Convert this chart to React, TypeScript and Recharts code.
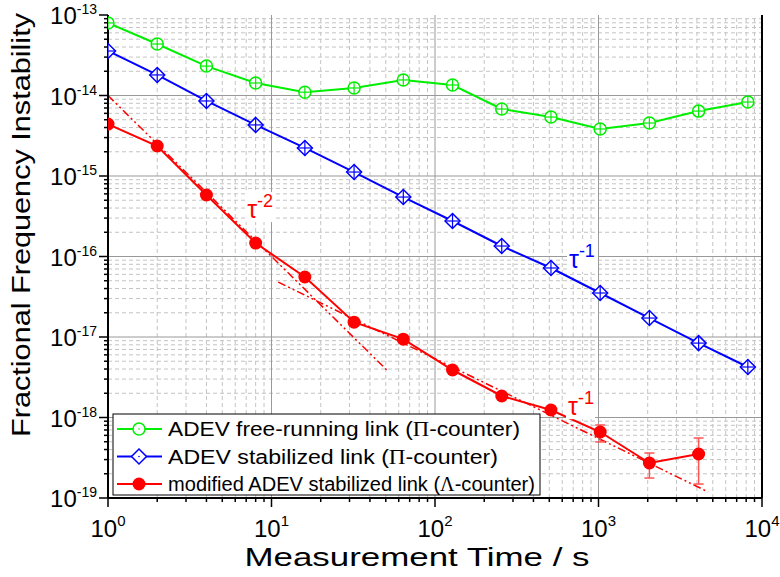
import {
  ComposedChart,
  Line,
  XAxis,
  YAxis,
  ReferenceLine,
  ReferenceDot,
  ErrorBar,
} from 'recharts';

document.body.style.margin = '0';

// averaging times (s)
const tau = [1, 2, 4, 8, 16, 32, 64, 128, 256, 512, 1024, 2048, 4096, 8192];

// ADEV free-running link (Pi-counter)
const freeRunning = [
  7.96e-14, 4.36e-14, 2.32e-14, 1.43e-14, 1.1e-14, 1.24e-14, 1.56e-14, 1.35e-14,
  6.8e-15, 5.4e-15, 3.84e-15, 4.55e-15, 6.4e-15, 8.3e-15,
];
// ADEV stabilized link (Pi-counter)
const stabilized = [
  3.57e-14, 1.8e-14, 8.55e-15, 4.31e-15, 2.23e-15, 1.12e-15, 5.48e-16, 2.76e-16,
  1.35e-16, 7.2e-17, 3.52e-17, 1.72e-17, 8.4e-18, 4.24e-18,
];
// modified ADEV stabilized link (Lambda-counter), no value at 8192 s
const modified = [
  4.42e-15, 2.36e-15, 5.81e-16, 1.47e-16, 5.56e-17, 1.53e-17, 9.4e-18, 3.89e-18,
  1.85e-18, 1.24e-18, 6.6e-19, 2.72e-19, 3.52e-19,
];

// error bars of the modified ADEV (lower / upper bound)
const errTau = [1024, 2048, 4096];
const errLow = [4.97e-19, 1.77e-19, 1.49e-19];
const errHigh = [8.07e-19, 3.62e-19, 5.56e-19];

// dash-dot slope guides, end points
const slope2Tau = [1, 52];
const slope2Val = [1.0e-14, 3.7e-18];
const slope1Tau = [11, 4680];
const slope1Val = [4.8e-17, 1.19e-19];

// axes
const xDecades = [1, 10, 100, 1000, 10000];
const yDecades = [1e-19, 1e-18, 1e-17, 1e-16, 1e-15, 1e-14, 1e-13];
const minorSteps = [2, 3, 4, 5, 6, 7, 8, 9];

const xMinor = xDecades.slice(0, -1).flatMap((d) => minorSteps.map((k) => k * d));
const yMinor = yDecades.slice(0, -1).flatMap((d) => minorSteps.map((k) => k * d));
const xTicks = [...xDecades, ...xMinor].sort((a, b) => a - b);
const yTicks = [...yDecades, ...yMinor].sort((a, b) => a - b);

const GREEN = '#00ee00';
const BLUE = '#0000ff';
const RED = '#ff0000';
const FONT = '"Liberation Sans", Arial, sans-serif';

const freeData = tau.map((t, i) => ({ t, v: freeRunning[i] }));
const stabData = tau.map((t, i) => ({ t, v: stabilized[i] }));
const modData = modified.map((v, i) => ({ t: tau[i], v }));
const errData = errTau.map((t, i) => {
  const v = modified[tau.indexOf(t)];
  return { t, v, err: [v - errLow[i], errHigh[i] - v] };
});
const slope2Data = slope2Tau.map((t, i) => ({ t, v: slope2Val[i] }));
const slope1Data = slope1Tau.map((t, i) => ({ t, v: slope1Val[i] }));

function isDecade(v: number) {
  const e = Math.log10(v);
  return Math.abs(e - Math.round(e)) < 1e-6;
}

function XTick(props: any) {
  const { x, y, payload } = props;
  const major = isDecade(payload.value);
  const exp = Math.round(Math.log10(payload.value));
  return (
    <g>
      <line x1={x} x2={x} y1={y} y2={y + (major ? 9 : 4)} stroke="#000" strokeWidth={1.5} />
      {major && (
        <text x={x} y={y + 39} textAnchor="middle" fontFamily={FONT} fontSize={24} fill="#000">
          10
          <tspan dy={-11} fontSize={15}>
            {exp}
          </tspan>
        </text>
      )}
    </g>
  );
}

function YTick(props: any) {
  const { x, y, payload } = props;
  const major = isDecade(payload.value);
  const exp = Math.round(Math.log10(payload.value));
  return (
    <g>
      <line x1={x} x2={x - (major ? 9 : 4)} y1={y} y2={y} stroke="#000" strokeWidth={1.5} />
      {major && (
        <text x={x - 11} y={y + 9} textAnchor="end" fontFamily={FONT} fontSize={24} fill="#000">
          10
          <tspan dy={-10} fontSize={14}>
            {exp}
          </tspan>
        </text>
      )}
    </g>
  );
}

function CircleCross(props: any) {
  const { cx, cy } = props;
  if (cx == null || cy == null) return null;
  const r = 6;
  return (
    <g>
      <circle cx={cx} cy={cy} r={r} fill="#fff" stroke={GREEN} strokeWidth={1.5} />
      <line x1={cx - r} x2={cx + r} y1={cy} y2={cy} stroke={GREEN} strokeWidth={1.2} />
      <line x1={cx} x2={cx} y1={cy - r} y2={cy + r} stroke={GREEN} strokeWidth={1.2} />
    </g>
  );
}

function DiamondCross(props: any) {
  const { cx, cy } = props;
  if (cx == null || cy == null) return null;
  const r = 7.5;
  return (
    <g>
      <path
        d={`M${cx},${cy - r}L${cx + r},${cy}L${cx},${cy + r}L${cx - r},${cy}Z`}
        fill="#fff"
        stroke={BLUE}
        strokeWidth={1.5}
      />
      <line x1={cx - r} x2={cx + r} y1={cy} y2={cy} stroke={BLUE} strokeWidth={1.2} />
      <line x1={cx} x2={cx} y1={cy - r} y2={cy + r} stroke={BLUE} strokeWidth={1.2} />
    </g>
  );
}

function SlopeLabel({ color, exp, width }: { color: string; exp: string; width: number }) {
  return (props: any) => {
    const { cx, cy } = props;
    return (
      <g>
        <rect x={cx - 2} y={cy - 26} width={width} height={30} fill="#fff" />
        <text x={cx} y={cy} fontFamily={FONT} fontSize={25} fill={color}>
          τ
          <tspan dy={-11} fontSize={18}>
            {exp}
          </tspan>
        </text>
      </g>
    );
  };
}

function YTitle() {
  const cx = 30;
  const cy = 225;
  return (
    <text
      x={cx}
      y={cy}
      transform={`rotate(-90 ${cx} ${cy})`}
      textAnchor="middle"
      fontFamily={FONT}
      fontSize={26}
      fill="#000"
      textLength={424}
      lengthAdjust="spacingAndGlyphs"
    >
      Fractional Frequency Instability
    </text>
  );
}

function XTitle() {
  return (
    <text
      x={417}
      y={566}
      textAnchor="middle"
      fontFamily={FONT}
      fontSize={26}
      fill="#000"
      textLength={345}
      lengthAdjust="spacingAndGlyphs"
    >
      Measurement Time / s
    </text>
  );
}

const legendRows = [
  { pre: 'ADEV free-running link (', sym: 'Π', post: '-counter)', color: GREEN, marker: 'circle', len: 352 },
  { pre: 'ADEV stabilized link (', sym: 'Π', post: '-counter)', color: BLUE, marker: 'diamond', len: 330 },
  { pre: 'modified ADEV stabilized link (', sym: 'Λ', post: '-counter)', color: RED, marker: 'dot', len: 367 },
];

function LegendBox() {
  return (
    <svg width={430} height={84} style={{ position: 'absolute', left: 112, top: 413 }}>
      <rect x={1} y={1} width={427} height={81} fill="#fff" stroke="#000" strokeWidth={1} />
      {legendRows.map((row, i) => {
        const y = 16 + i * 27.5;
        const mx = 27;
        return (
          <g key={row.pre}>
            <line x1={5} x2={50} y1={y} y2={y} stroke={row.color} strokeWidth={2} />
            {row.marker === 'circle' && (
              <g>
                <circle cx={mx} cy={y} r={6} fill="#fff" stroke={row.color} strokeWidth={1.5} />
                <circle cx={mx} cy={y} r={0.8} fill={row.color} />
              </g>
            )}
            {row.marker === 'diamond' && (
              <g>
                <path
                  d={`M${mx},${y - 7.5}L${mx + 7.5},${y}L${mx},${y + 7.5}L${mx - 7.5},${y}Z`}
                  fill="#fff"
                  stroke={row.color}
                  strokeWidth={1.5}
                />
                <circle cx={mx} cy={y} r={0.8} fill={row.color} />
              </g>
            )}
            {row.marker === 'dot' && <circle cx={mx} cy={y} r={6.5} fill={row.color} />}
            <text
              x={56}
              y={y + 7}
              fontFamily={FONT}
              fontSize={20}
              fill="#000"
              textLength={row.len}
              lengthAdjust="spacingAndGlyphs"
            >
              {row.pre}
              <tspan fontFamily='"Liberation Serif", "Times New Roman", serif'>{row.sym}</tspan>
              {row.post}
            </text>
          </g>
        );
      })}
    </svg>
  );
}

export default function App() {
  return (
    <div style={{ position: 'relative', width: 780, height: 577, background: '#fff' }}>
      <ComposedChart width={780} height={577} margin={{ top: 15, right: 0, bottom: 0, left: 0 }}>
        <XAxis
          xAxisId={0}
          dataKey="t"
          type="number"
          scale="log"
          domain={[1, 10000]}
          allowDataOverflow
          ticks={xTicks}
          interval={0}
          tick={<XTick />}
          tickLine={false}
          tickSize={0}
          tickMargin={0}
          axisLine={{ stroke: '#000', strokeWidth: 2 }}
          height={79}
          label={<XTitle />}
        />
        <XAxis
          xAxisId="top"
          orientation="top"
          type="number"
          scale="log"
          domain={[1, 10000]}
          allowDataOverflow
          tick={false}
          tickLine={false}
          axisLine={{ stroke: '#000', strokeWidth: 2 }}
          height={0}
        />
        <YAxis
          yAxisId={0}
          type="number"
          scale="log"
          domain={[1e-19, 1e-13]}
          allowDataOverflow
          ticks={yTicks}
          interval={0}
          tick={<YTick />}
          tickLine={false}
          tickSize={0}
          tickMargin={0}
          axisLine={{ stroke: '#000', strokeWidth: 2 }}
          width={108}
          label={<YTitle />}
        />
        <YAxis
          yAxisId="right"
          orientation="right"
          type="number"
          scale="log"
          domain={[1e-19, 1e-13]}
          allowDataOverflow
          tick={false}
          tickLine={false}
          axisLine={{ stroke: '#000', strokeWidth: 2 }}
          width={18}
        />

        {xMinor.map((v) => (
          <ReferenceLine key={`xm${v}`} x={v} stroke="#c4c4c4" strokeDasharray="4 3" strokeWidth={1} />
        ))}
        {yMinor.map((v) => (
          <ReferenceLine key={`ym${v}`} y={v} stroke="#c4c4c4" strokeDasharray="4 3" strokeWidth={1} />
        ))}
        {xDecades.slice(1, -1).map((v) => (
          <ReferenceLine key={`xM${v}`} x={v} stroke="#999" strokeWidth={1} />
        ))}
        {yDecades.slice(1, -1).map((v) => (
          <ReferenceLine key={`yM${v}`} y={v} stroke="#999" strokeWidth={1} />
        ))}

        <ReferenceDot x={7.1} y={3.0e-16} r={0} ifOverflow="visible" shape={SlopeLabel({ color: RED, exp: '-2', width: 29 })} />
        <ReferenceDot x={660} y={7.2e-17} r={0} ifOverflow="visible" shape={SlopeLabel({ color: BLUE, exp: '-1', width: 31 })} />
        <ReferenceDot x={651} y={1.07e-18} r={0} ifOverflow="visible" shape={SlopeLabel({ color: RED, exp: '-1', width: 29 })} />

        <Line
          data={slope2Data}
          dataKey="v"
          stroke={RED}
          strokeWidth={1.5}
          strokeDasharray="8 3 2 3 2 3"
          dot={false}
          activeDot={false}
          isAnimationActive={false}
        />
        <Line
          data={slope1Data}
          dataKey="v"
          stroke={RED}
          strokeWidth={1.5}
          strokeDasharray="8 3 2 3 2 3"
          dot={false}
          activeDot={false}
          isAnimationActive={false}
        />
        <Line data={errData} dataKey="v" stroke="none" dot={false} activeDot={false} isAnimationActive={false}>
          <ErrorBar dataKey="err" direction="y" width={5} stroke="#ff5555" strokeWidth={1.5} />
        </Line>
        <Line
          data={freeData}
          dataKey="v"
          name="ADEV free-running link"
          stroke={GREEN}
          strokeWidth={2}
          dot={<CircleCross />}
          activeDot={false}
          isAnimationActive={false}
        />
        <Line
          data={stabData}
          dataKey="v"
          name="ADEV stabilized link"
          stroke={BLUE}
          strokeWidth={2}
          dot={<DiamondCross />}
          activeDot={false}
          isAnimationActive={false}
        />
        <Line
          data={modData}
          dataKey="v"
          name="modified ADEV stabilized link"
          stroke={RED}
          strokeWidth={2}
          dot={{ r: 6.5, fill: RED, stroke: RED, strokeWidth: 0 }}
          activeDot={false}
          isAnimationActive={false}
        />
      </ComposedChart>
      <LegendBox />
    </div>
  );
}
